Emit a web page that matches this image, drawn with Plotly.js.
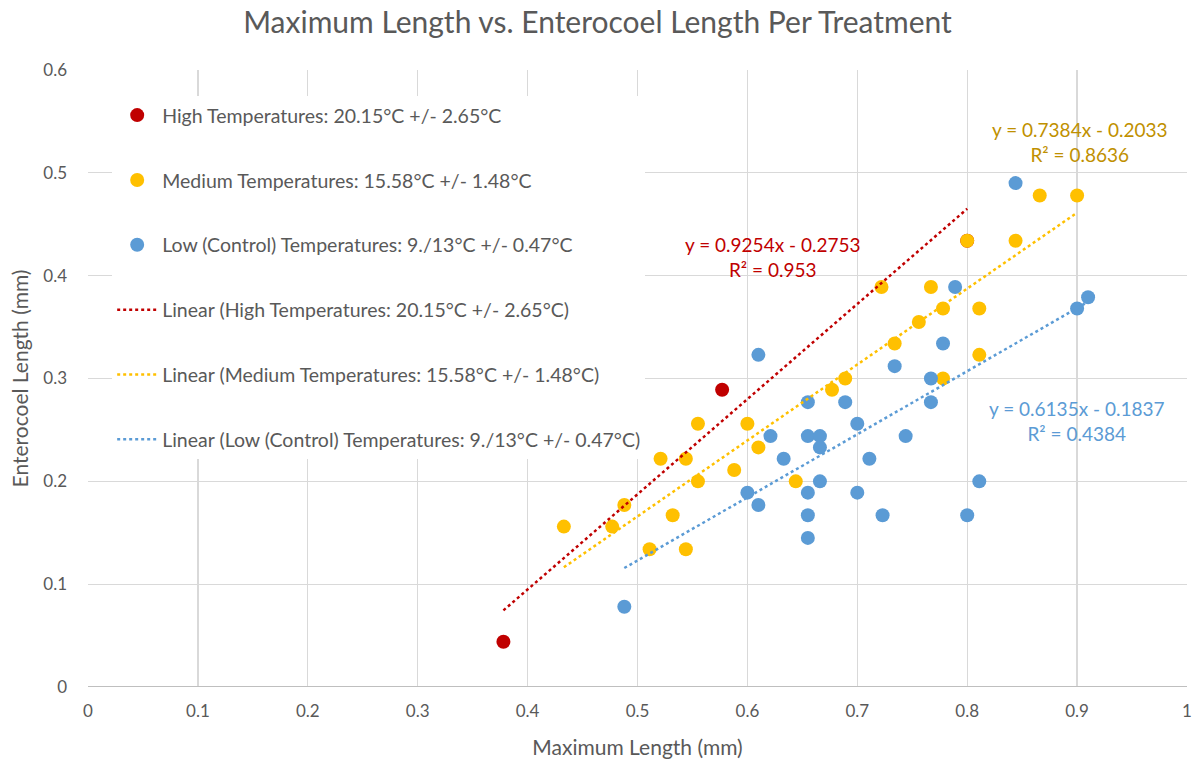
<!DOCTYPE html>
<html>
<head>
<meta charset="utf-8">
<script src="https://cdn.plot.ly/plotly-3.0.1.min.js"></script>
<style>html,body{margin:0;padding:0;background:#fff;}#chart{width:1195px;height:761px;}</style>
</head>
<body>
<div id="chart"></div>
<script>
// ---- Data ----
const seriesNames = [
  "High Temperatures: 20.15°C +/- 2.65°C",
  "Medium Temperatures: 15.58°C +/- 1.48°C",
  "Low (Control) Temperatures: 9./13°C +/- 0.47°C"
];
const highX = [0.378, 0.577, 0.800];
const highY = [0.044, 0.289, 0.434];

const medX = [0.433, 0.477, 0.488, 0.511, 0.521, 0.532, 0.544, 0.544, 0.555, 0.555, 0.588, 0.600, 0.610, 0.644, 0.677, 0.689, 0.722, 0.734, 0.756, 0.767, 0.778, 0.778, 0.800, 0.811, 0.811, 0.844, 0.866, 0.900];
const medY = [0.156, 0.156, 0.177, 0.134, 0.222, 0.167, 0.222, 0.134, 0.256, 0.200, 0.211, 0.256, 0.233, 0.200, 0.289, 0.300, 0.389, 0.334, 0.355, 0.389, 0.368, 0.300, 0.434, 0.368, 0.323, 0.434, 0.478, 0.478];

const lowX = [0.488, 0.600, 0.610, 0.610, 0.621, 0.633, 0.655, 0.655, 0.655, 0.655, 0.655, 0.666, 0.666, 0.666, 0.689, 0.700, 0.700, 0.711, 0.723, 0.734, 0.744, 0.767, 0.767, 0.778, 0.789, 0.800, 0.811, 0.844, 0.900, 0.910];
const lowY = [0.078, 0.189, 0.177, 0.323, 0.244, 0.222, 0.277, 0.244, 0.189, 0.167, 0.145, 0.244, 0.233, 0.200, 0.277, 0.256, 0.189, 0.222, 0.167, 0.312, 0.244, 0.300, 0.277, 0.334, 0.389, 0.167, 0.200, 0.490, 0.368, 0.379];

const slopes = [0.9254, 0.7384, 0.6135];
const intercepts = [-0.2753, -0.2033, -0.1837];
const r2Values = ["0.953", "0.8636", "0.4384"];

const xTicks = [0, 0.1, 0.2, 0.3, 0.4, 0.5, 0.6, 0.7, 0.8, 0.9, 1];
const xTickText = ["0", "0.1", "0.2", "0.3", "0.4", "0.5", "0.6", "0.7", "0.8", "0.9", "1"];
const yTicks = [0, 0.1, 0.2, 0.3, 0.4, 0.5, 0.6];
const yTickText = ["0", "0.1", "0.2", "0.3", "0.4", "0.5", "0.6"];

// ---- Styles ----
const colors = ["#C00000", "#FFC000", "#5B9BD5"];
const eqColors = ["#C00000", "#BF9000", "#5B9BD5"];
const FONT = "Lato, 'Open Sans', sans-serif";
const GREY = "#595959";

const xs = [highX, medX, lowX];
const ys = [highY, medY, lowY];

const traces = [];
for (let i = 0; i < 3; i++) {
  traces.push({
    type: "scatter", mode: "markers", x: xs[i], y: ys[i], name: seriesNames[i],
    legendgroup: "g" + i,
    marker: {color: colors[i], size: 14, line: {width: 0}},
    hoverinfo: "x+y"
  });
}
for (let i = 0; i < 3; i++) {
  const x0 = Math.min(...xs[i]), x1 = Math.max(...xs[i]);
  traces.push({
    type: "scatter", mode: "lines",
    x: [x0, x1], y: [slopes[i] * x0 + intercepts[i], slopes[i] * x1 + intercepts[i]],
    name: "Linear (" + seriesNames[i] + ")",
    legendgroup: "t" + i,
    line: {color: colors[i], width: 2.5, dash: "dot"},
    hoverinfo: "skip"
  });
}

function eqText(i) {
  const b = intercepts[i];
  return "y = " + slopes[i].toFixed(4) + "x - " + Math.abs(b).toFixed(4) + "<br>R² = " + r2Values[i];
}

const annotations = [
  {x: 0.6233, y: 0.4178, text: eqText(0), color: eqColors[0]},
  {x: 0.9027, y: 0.530, text: eqText(1), color: eqColors[1]},
  {x: 0.900, y: 0.259, text: eqText(2), color: eqColors[2]}
].map(a => ({
  x: a.x, y: a.y, xref: "x", yref: "y", text: a.text, showarrow: false,
  align: "center", xanchor: "center", yanchor: "middle",
  font: {family: FONT, size: 19, color: a.color}
}));

const layout = {
  width: 1195, height: 761,
  paper_bgcolor: "#fff", plot_bgcolor: "#fff",
  margin: {l: 88, r: 8, t: 70, b: 74},
  title: {text: "Maximum Length vs. Enterocoel Length Per Treatment",
          font: {family: FONT, size: 30, color: GREY}, x: 0.5, xanchor: "center", y: 0.97, yanchor: "middle"},
  font: {family: FONT, color: GREY},
  xaxis: {
    range: [0, 1], tickvals: xTicks, ticktext: xTickText,
    showgrid: true, gridcolor: "#D9D9D9", gridwidth: 1.3,
    zeroline: false, showline: false, ticks: "",
    tickfont: {family: FONT, size: 17, color: GREY}, ticklabelstandoff: 12,
    title: {text: "Maximum Length (mm)", font: {family: FONT, size: 21, color: GREY}, standoff: 20}
  },
  yaxis: {
    range: [0, 0.6], tickvals: yTicks, ticktext: yTickText,
    showgrid: true, gridcolor: "#D9D9D9", gridwidth: 1.3,
    zeroline: false, showline: false, ticks: "",
    tickfont: {family: FONT, size: 17, color: GREY}, ticklabelstandoff: 20,
    title: {text: "Enterocoel Length (mm)", font: {family: FONT, size: 21, color: GREY}, standoff: 8}
  },
  shapes: [
    {type: "line", xref: "paper", yref: "y", x0: 0, x1: 1, y0: 0, y1: 0, line: {color: "#BFBFBF", width: 2}}
  ],
  showlegend: true,
  legend: {
    x: 0.022, y: 0.958, xanchor: "left", yanchor: "top",
    bgcolor: "#ffffff", borderwidth: 0,
    font: {family: FONT, size: 19.5, color: GREY},
    tracegroupgap: 36.5, itemwidth: 40
  },
  annotations: annotations
};

Plotly.newPlot("chart", traces, layout, {displayModeBar: false, staticPlot: true});
</script>
</body>
</html>
